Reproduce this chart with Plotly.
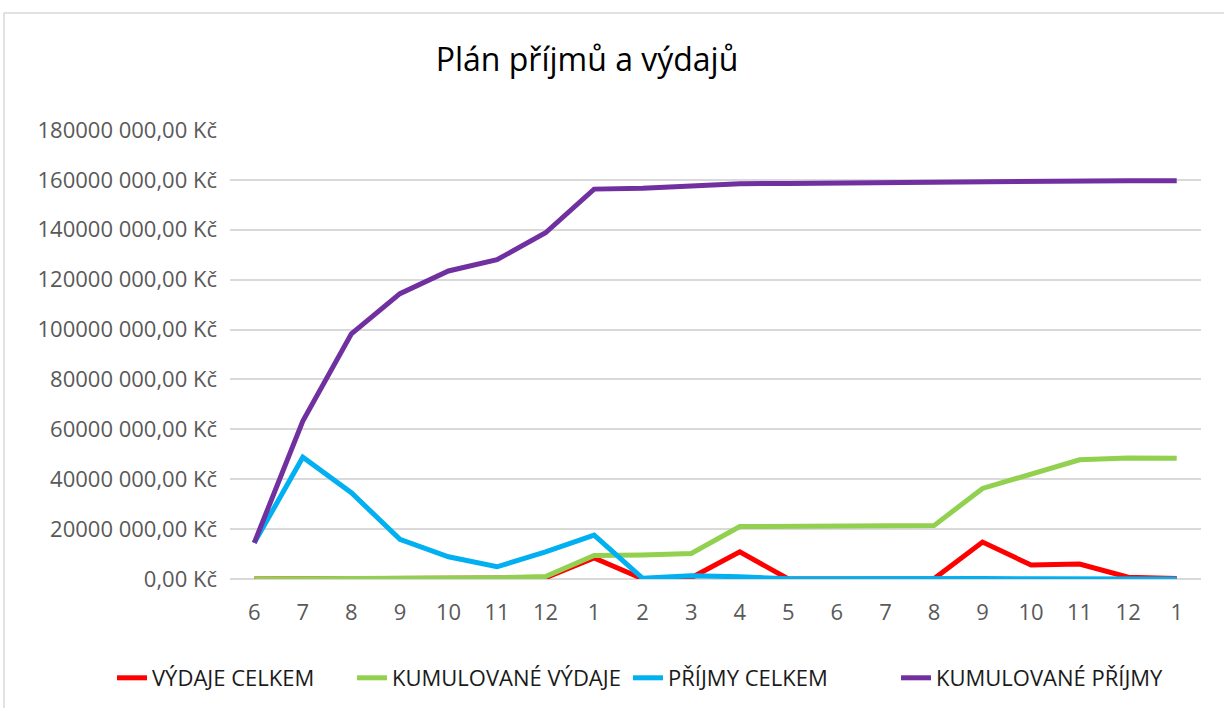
import plotly.graph_objects as go

# Months covered by the plan (two calendar years)
months = ["6", "7", "8", "9", "10", "11", "12", "1", "2", "3",
          "4", "5", "6", "7", "8", "9", "10", "11", "12", "1"]

# Values in Kč
vydaje_celkem = [0, 0, 50_000, 100_000, 100_000, 200_000, 500_000, 8_400_000, 100_000, 500_000,
                 10_900_000, 0, 100_000, 200_000, 100_000, 14_800_000, 5_600_000, 6_000_000, 700_000, 200_000]
kumulovane_vydaje = [0, 0, 100_000, 200_000, 300_000, 500_000, 1_000_000, 9_400_000, 9_600_000, 10_200_000,
                     21_000_000, 21_000_000, 21_100_000, 21_300_000, 21_400_000, 36_300_000, 41_900_000, 47_800_000, 48_500_000, 48_400_000]
prijmy_celkem = [14_500_000, 48_800_000, 34_600_000, 15_900_000, 8_900_000, 4_900_000, 10_900_000, 17_600_000, 300_000, 1_300_000,
                 900_000, 100_000, 100_000, 300_000, 200_000, 200_000, 100_000, 50_000, 50_000, 50_000]
kumulovane_prijmy = [14_500_000, 63_300_000, 98_300_000, 114_400_000, 123_500_000, 128_000_000, 138_800_000, 156_300_000, 156_600_000, 157_700_000,
                     158_500_000, 158_600_000, 158_800_000, 159_100_000, 159_300_000, 159_500_000, 159_600_000, 159_700_000, 159_700_000, 159_700_000]

y_ticks = [i * 20_000_000 for i in range(10)]


def kc_label(v):
    if v == 0:
        return "0,00 Kč"
    return f"{v // 1000} {v % 1000:03d},00 Kč"


series = [
    ("VÝDAJE CELKEM", vydaje_celkem, "#FF0000"),
    ("KUMULOVANÉ VÝDAJE", kumulovane_vydaje, "#92D050"),
    ("PŘÍJMY CELKEM", prijmy_celkem, "#00B0F0"),
    ("KUMULOVANÉ PŘÍJMY", kumulovane_prijmy, "#7030A0"),
]

# left edge (px) of each legend entry along the bottom row
legend_left = [112, 352, 628, 896]

font_family = "Open Sans, Noto Sans, sans-serif"

x = list(range(len(months)))
fig = go.Figure()
legend_layouts = {}
for i, (name, vals, color) in enumerate(series):
    key = "legend" if i == 0 else f"legend{i + 1}"
    fig.add_trace(go.Scatter(
        x=x, y=vals, name=name, mode="lines",
        line=dict(color=color, width=5),
        legend=key, showlegend=True,
    ))
    legend_layouts[key] = dict(
        orientation="h", xref="container", yref="container",
        x=legend_left[i] / 1224, xanchor="left", y=30 / 708, yanchor="middle",
        font=dict(family=font_family, size=22, color="#1A1A1A"),
        itemwidth=30, bgcolor="rgba(0,0,0,0)",
    )

fig.update_layout(
    width=1224, height=708,
    showlegend=True,
    margin=dict(l=230, r=23, t=130, b=129),
    paper_bgcolor="white", plot_bgcolor="white",
    title=dict(text="Plán příjmů a výdajů", x=587 / 1224, xanchor="center",
               y=1 - 60 / 708, yanchor="middle",
               font=dict(family=font_family, size=32, color="#000000")),
    font=dict(family=font_family),
    xaxis=dict(
        range=[-0.5, len(months) - 0.5],
        tickmode="array", tickvals=x, ticktext=months,
        showgrid=False, zeroline=False, showline=False,
        ticks="", ticklabelstandoff=18,
        tickfont=dict(size=22, color="#595959"),
    ),
    yaxis=dict(
        range=[0, 180_000_000],
        tickmode="array", tickvals=y_ticks, ticktext=[kc_label(v) for v in y_ticks],
        showgrid=True, gridcolor="#D9D9D9", gridwidth=1.5,
        zeroline=True, zerolinecolor="#D9D9D9", zerolinewidth=1.5,
        ticks="", ticklabelstandoff=12,
        tickfont=dict(size=22, color="#595959"),
    ),
    shapes=[dict(
        type="rect", xref="paper", yref="paper",
        x0=(4 - 230) / 971, x1=1.2, y0=-0.5, y1=(579 - 13) / 449,
        line=dict(color="#D9D9D9", width=1.5), fillcolor="rgba(0,0,0,0)",
        layer="below",
    )],
    **legend_layouts,
)

fig.write_html("out.html")
